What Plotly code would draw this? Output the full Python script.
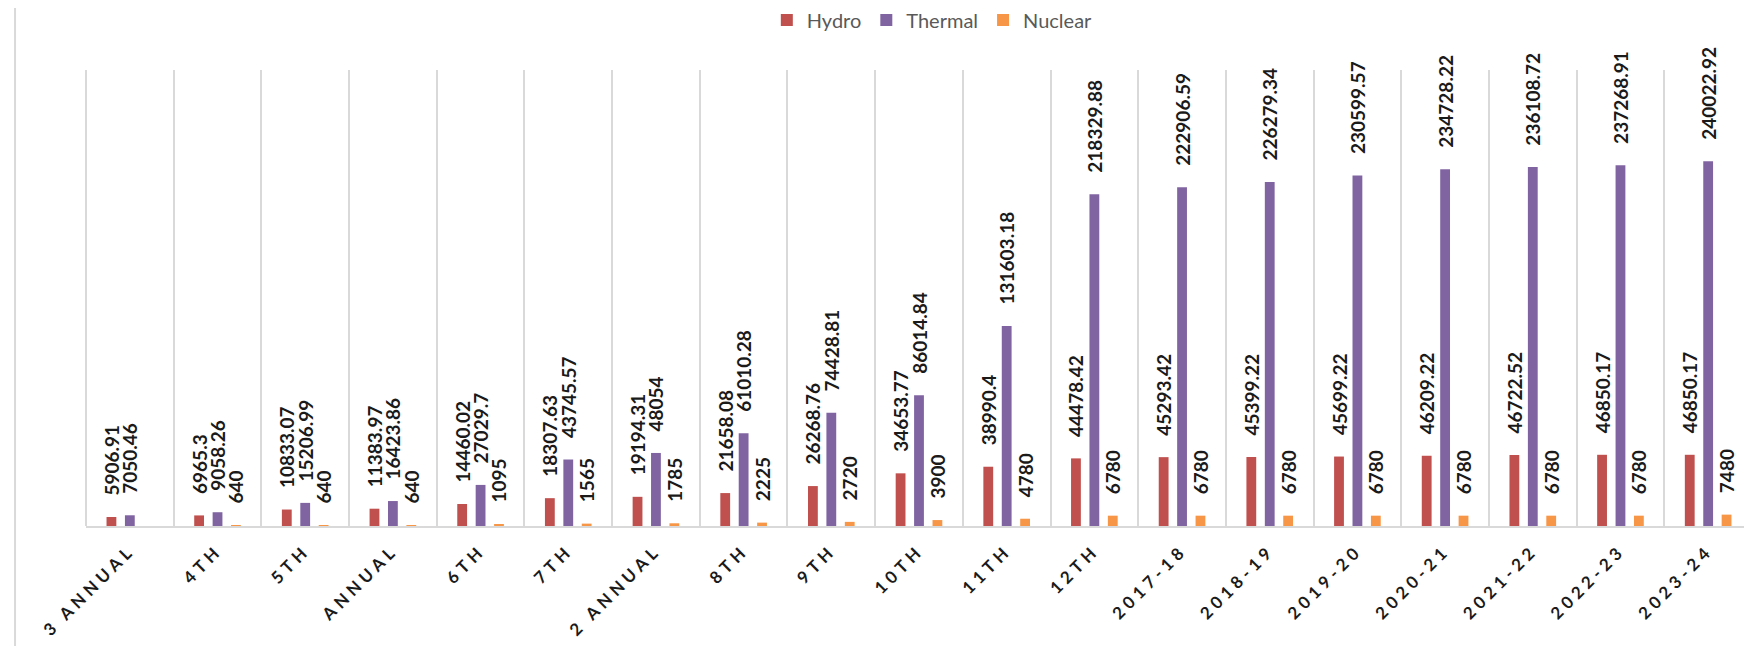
import plotly.graph_objects as go

categories = ["3 ANNUAL", "4TH", "5TH", "ANNUAL", "6TH", "7TH", "2 ANNUAL", "8TH", "9TH",
              "10TH", "11TH", "12TH", "2017-18", "2018-19", "2019-20", "2020-21",
              "2021-22", "2022-23", "2023-24"]
hydro = [5906.91, 6965.3, 10833.07, 11383.97, 14460.02, 18307.63, 19194.31, 21658.08,
         26268.76, 34653.77, 38990.4, 44478.42, 45293.42, 45399.22, 45699.22, 46209.22,
         46722.52, 46850.17, 46850.17]
thermal = [7050.46, 9058.26, 15206.99, 16423.86, 27029.7, 43745.57, 48054, 61010.28,
           74428.81, 86014.84, 131603.18, 218329.88, 222906.59, 226279.34, 230599.57,
           234728.22, 236108.72, 237268.91, 240022.92]
nuclear = [None, 640, 640, 640, 1095, 1565, 1785, 2225, 2720, 3900, 4780, 6780, 6780,
           6780, 6780, 6780, 6780, 6780, 7480]

series = [("Hydro", hydro, "#C0504D"), ("Thermal", thermal, "#8064A2"), ("Nuclear", nuclear, "#F79646")]


def fmt(v):
    if v is None:
        return ""
    s = ("%.2f" % v).rstrip("0").rstrip(".")
    return "\u00a0\u00a0\u00a0\u00a0" + s


fig = go.Figure()
for name, vals, color in series:
    fig.add_trace(go.Bar(
        name=name, x=categories, y=vals, marker=dict(color=color, line=dict(width=0)),
        text=[fmt(v) for v in vals], textposition="outside", textangle=-90,
        constraintext="none", cliponaxis=False,
        textfont=dict(family="Lato", size=19, color="#1a1a1a", weight="bold"),
    ))

n = len(categories)
grid = dict(color="#d9d9d9", width=2)
fig.update_layout(
    width=1752, height=646,
    margin=dict(l=78, r=8, t=62, b=128),
    paper_bgcolor="white", plot_bgcolor="white",
    barmode="group", bargap=0.37, bargroupgap=0.467,
    showlegend=True,
    legend=dict(orientation="h", x=0.508, xanchor="center", yref="container",
                y=1 - 12 / 646, yanchor="middle",
                font=dict(family="Lato", size=20, color="#595959"),
                itemwidth=30, bgcolor="rgba(0,0,0,0)"),
    xaxis=dict(type="category", range=[-0.5, n - 0.5], tickson="boundaries",
               showgrid=True, gridcolor="#d9d9d9", gridwidth=2,
               showline=True, linecolor="#d9d9d9", linewidth=2, ticks="",
               tickangle=-45, ticklabelstandoff=6,
               tickfont=dict(family="Lato", size=17, color="#1a1a1a", weight="bold")),
    yaxis=dict(visible=False, range=[0, 300000]),
    shapes=[
        dict(type="line", xref="paper", yref="paper", x0=-0.0426, x1=-0.0426,
             y0=-0.3, y1=1.2, line=grid, layer="below"),
        dict(type="line", xref="x domain", yref="y domain", x0=0, x1=0, y0=0, y1=1,
             line=grid, layer="below"),
        dict(type="line", xref="x domain", yref="y domain", x0=1, x1=1, y0=0, y1=1,
             line=grid, layer="below"),
    ],
)

post = """
var gd = document.getElementById('{plot_id}');
function ls(){ gd.querySelectorAll('.xtick text').forEach(function(t){ t.style.letterSpacing='4.5px'; }); }
ls(); gd.on('plotly_afterplot', ls);
"""
fig.write_html("out.html", post_script=post)
